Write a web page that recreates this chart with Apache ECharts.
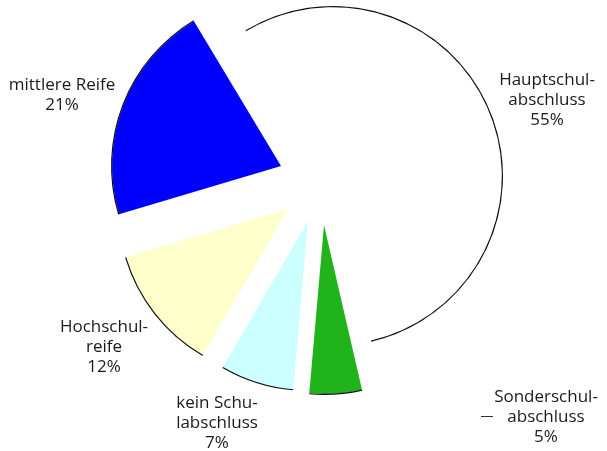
<!DOCTYPE html>
<html>
<head>
<meta charset="utf-8">
<script src="https://cdn.jsdelivr.net/npm/echarts@6/dist/echarts.min.js"></script>
<style>
html, body { margin: 0; padding: 0; background: #fff; }
#chart { width: 607px; height: 451px; }
</style>
</head>
<body>
<div id="chart"></div>
<script>
// Schulabschluesse, Anteile in Prozent (im Uhrzeigersinn ab oben links)
const categories = ['Hauptschulabschluss', 'Sonderschulabschluss', 'kein Schulabschluss', 'Hochschulreife', 'mittlere Reife'];
const labelTexts = ['Hauptschul-\nabschluss', 'Sonderschul-\nabschluss', 'kein Schu-\nlabschluss', 'Hochschul-\nreife', 'mittlere Reife'];
const shares = [55, 5, 7, 12, 21];
const colors = ['#ffffff', '#20b31b', '#ccffff', '#ffffcc', '#0000ff'];

// every slice is pulled out by a different amount -> own centre per slice
const sliceCenters = [[333, 176], [324, 225], [308, 221], [288, 209], [281, 166]];
const labelPos = [[547, 100], [546, 417], [217, 423], [104, 347], [62, 95]];
const R = 169;

const chart = echarts.init(document.getElementById('chart'));

const series = [];
categories.forEach((name, i) => {
  const fill = categories.map((n, j) => ({
    name: n,
    value: shares[j],
    itemStyle: { color: j === i ? colors[j] : 'rgba(0,0,0,0)' },
    label: { show: j === i }
  }));
  const rim = categories.map((n, j) => ({
    name: n,
    value: shares[j],
    itemStyle: { color: j === i ? '#111' : 'rgba(0,0,0,0)' }
  }));
  series.push({
    type: 'pie',
    center: sliceCenters[i],
    radius: [0, R],
    startAngle: 121,
    silent: true,
    animation: false,
    avoidLabelOverlap: false,
    data: fill,
    label: {
      position: 'outside',
      formatter: p => labelTexts[p.dataIndex] + '\n' + p.value + '%',
      fontFamily: 'Open Sans',
      fontSize: 17,
      lineHeight: 20,
      color: '#1a1a1a',
      align: 'center'
    },
    labelLine: { show: false },
    labelLayout: () => ({ x: labelPos[i][0], y: labelPos[i][1], align: 'center', verticalAlign: 'middle' })
  });
  // thin outline only along the outer arc
  series.push({
    type: 'pie',
    center: sliceCenters[i],
    radius: [R - 0.2, R + 1],
    startAngle: 121,
    silent: true,
    animation: false,
    label: { show: false },
    labelLine: { show: false },
    data: rim
  });
});

chart.setOption({
  backgroundColor: '#fff',
  series,
  graphic: [{
    type: 'line',
    shape: { x1: 481, y1: 416.5, x2: 493, y2: 416.5 },
    style: { stroke: '#333', lineWidth: 1 },
    silent: true
  }]
});
</script>
</body>
</html>
